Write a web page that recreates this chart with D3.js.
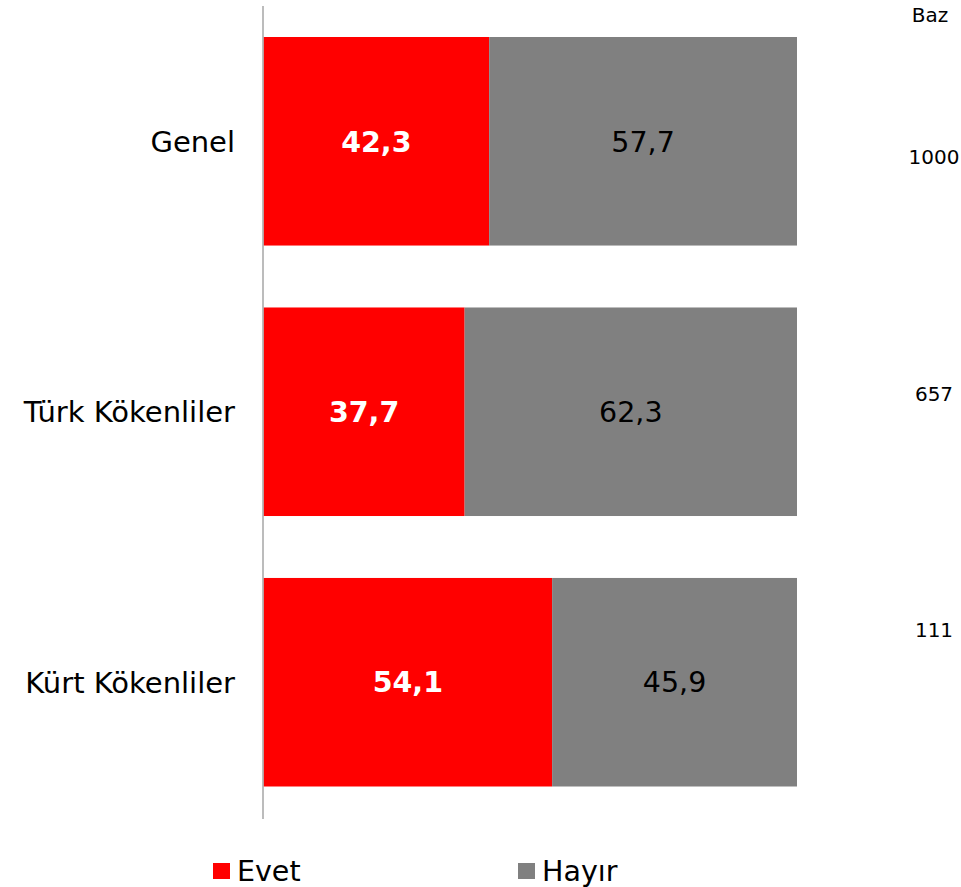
<!DOCTYPE html>
<html><head><meta charset="utf-8">
<script src="https://cdn.jsdelivr.net/npm/d3@7"></script>
<style>body{margin:0;background:#fff}svg{display:block}text{font-family:"DejaVu Sans",Verdana,sans-serif}</style>
</head><body>
<svg id="c" width="961" height="887"></svg>
<script>
const categories = ["Genel", "Türk Kökenliler", "Kürt Kökenliler"];
const evet = [42.3, 37.7, 54.1];
const hayir = [57.7, 62.3, 45.9];
const baz = ["1000", "657", "111"];
const seriesNames = ["Evet", "Hayır"];
const colors = ["#ff0000", "#808080"];

const svg = d3.select("#c");
const x = d3.scaleLinear().domain([0, 100]).range([263.5, 797]);
const y = d3.scaleBand().domain(categories).range([37, 786.5]).paddingInner(0.229).paddingOuter(0);

const rows = categories.map((c, i) => ({cat: c, vals: [evet[i], hayir[i]]}));
const stack = d3.stack().keys([0, 1]).value((d, k) => d.vals[k]);
const layers = stack(rows);

layers.forEach((layer, k) => {
  svg.append("g").selectAll("rect").data(layer).join("rect")
    .attr("x", d => x(d[0]))
    .attr("width", d => x(d[1]) - x(d[0]))
    .attr("y", d => y(d.data.cat))
    .attr("height", y.bandwidth())
    .attr("fill", colors[k]);
  svg.append("g").selectAll("text").data(layer).join("text")
    .attr("x", d => (x(d[0]) + x(d[1])) / 2)
    .attr("y", d => y(d.data.cat) + y.bandwidth() / 2)
    .attr("dy", "0.36em")
    .attr("text-anchor", "middle")
    .attr("font-size", 28.5)
    .attr("font-weight", k === 0 ? "bold" : "normal")
    .attr("fill", k === 0 ? "#fff" : "#000")
    .text(d => d3.format(".1f")(d[1] - d[0]).replace(".", ","));
});

// axis line
svg.append("line").attr("x1", 263).attr("x2", 263).attr("y1", 6).attr("y2", 819)
  .attr("stroke", "#a6a6a6").attr("stroke-width", 1.5);

// category labels
svg.append("g").selectAll("text").data(categories).join("text")
  .attr("x", 235)
  .attr("y", d => y(d) + y.bandwidth() / 2)
  .attr("dy", "0.36em")
  .attr("text-anchor", "end")
  .attr("font-size", 29)
  .attr("fill", "#000")
  .text(d => d);

// Baz column
svg.append("text").attr("x", 930).attr("y", 22).attr("text-anchor", "middle")
  .attr("font-size", 20).attr("fill", "#000").text("Baz");
const yb = d3.scalePoint().domain(categories).range([157, 630]);
svg.append("g").selectAll("text").data(categories).join("text")
  .attr("x", 934)
  .attr("y", d => yb(d))
  .attr("dy", "0.36em")
  .attr("text-anchor", "middle")
  .attr("font-size", 20)
  .attr("fill", "#000")
  .text((d, i) => baz[i]);

// legend
const lx = [213, 518];
const lg = svg.append("g").selectAll("g").data(seriesNames).join("g")
  .attr("transform", (d, i) => `translate(${lx[i]},863)`);
lg.append("rect").attr("width", 17).attr("height", 16).attr("fill", (d, i) => colors[i]);
lg.append("text").attr("x", 24).attr("y", 8).attr("dy", "0.36em")
  .attr("font-size", 28.5).attr("fill", "#000").text(d => d);
</script>
</body></html>
